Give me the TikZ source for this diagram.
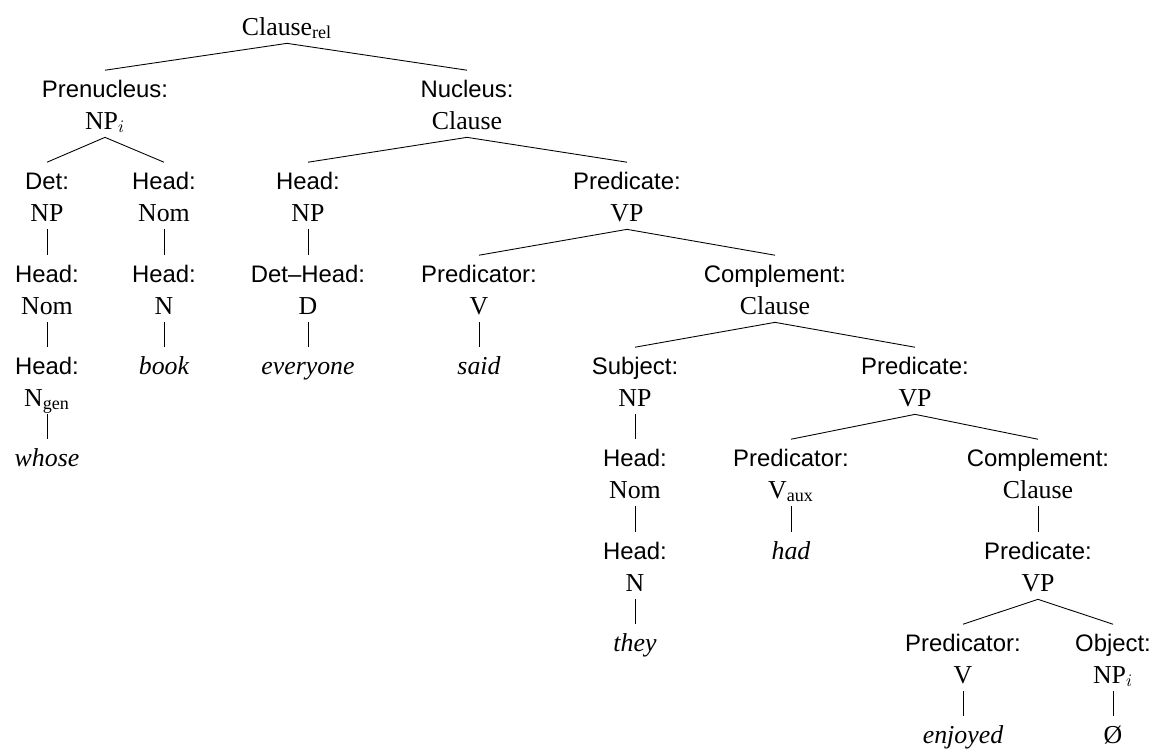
\documentclass[tikz,border=0pt]{standalone}
\usepackage{fontspec}
\setmainfont{Liberation Serif}
\setsansfont{Liberation Sans}

\begin{document}
\begin{tikzpicture}[x=0.02cm, y=-0.02cm, line width=0.5pt,
  every node/.style = {anchor=base, inner xsep=0pt, inner ysep=4.5pt},
  fn/.style = {font=\fontsize{13.6}{16}\selectfont\sffamily, text height=10.5pt},
  cat/.style = {font=\fontsize{14.7}{18}\selectfont, text depth=0pt},
  wrd/.style = {font=\fontsize{14.7}{18}\selectfont\itshape, text height=10.5pt}]

  \useasboundingbox (0,0) rectangle (1153,748);

  \node[cat] (root) at (287,35) {Clause\textsubscript{rel}};

  \node[fn]  (preF) at (105,97)  {Prenucleus:};
  \node[cat] (pre)  at (105,129) {NP$_i$};
  \node[fn]  (nucF) at (467,97)  {Nucleus:};
  \node[cat] (nuc)  at (467,129) {Clause};

  \node[fn]  (detF) at (47,189)  {Det:};
  \node[cat] (det)  at (47,221)  {NP};
  \node[fn]  (hdF)  at (164,189) {Head:};
  \node[cat] (hd)   at (164,221) {Nom};
  \node[fn]  (shF)  at (308,189) {Head:};
  \node[cat] (sh)   at (308,221) {NP};
  \node[fn]  (prdF) at (627,189) {Predicate:};
  \node[cat] (prd)  at (627,221) {VP};

  \node[fn]  (dhF)  at (47,282)  {Head:};
  \node[cat] (dh)   at (47,314)  {Nom};
  \node[fn]  (hnF)  at (164,282) {Head:};
  \node[cat] (hn)   at (164,314) {N};
  \node[fn]  (dtF)  at (308,282) {Det--Head:};
  \node[cat] (dt)   at (308,314) {D};
  \node[fn]  (vF)   at (479,282) {Predicator:};
  \node[cat] (v)    at (479,314) {V};
  \node[fn]  (cmpF) at (775,282) {Complement:};
  \node[cat] (cmp)  at (775,314) {Clause};

  \node[fn]  (gnF)  at (47,374)  {Head:};
  \node[cat] (gn)   at (47,406)  {N\textsubscript{gen}};
  \node[wrd] (book) at (164,374) {book};
  \node[wrd] (everyone) at (308,374) {everyone};
  \node[wrd] (said) at (479,374) {said};
  \node[fn]  (sbjF) at (635,374) {Subject:};
  \node[cat] (sbj)  at (635,406) {NP};
  \node[fn]  (prd2F) at (915,374) {Predicate:};
  \node[cat] (prd2)  at (915,406) {VP};

  \node[wrd] (whose) at (47,466) {whose};
  \node[fn]  (snomF) at (635,466) {Head:};
  \node[cat] (snom)  at (635,498) {Nom};
  \node[fn]  (auxF)  at (791,466) {Predicator:};
  \node[cat] (aux)   at (791,498) {V\textsubscript{aux}};
  \node[fn]  (cmp2F) at (1038,466) {Complement:};
  \node[cat] (cmp2)  at (1038,498) {Clause};

  \node[fn]  (snF)   at (635,559) {Head:};
  \node[cat] (sn)    at (635,591) {N};
  \node[wrd] (had)   at (791,559) {had};
  \node[fn]  (prd3F) at (1038,559) {Predicate:};
  \node[cat] (prd3)  at (1038,591) {VP};

  \node[wrd] (they)  at (635,651) {they};
  \node[fn]  (v3F)   at (963,651) {Predicator:};
  \node[cat] (v3)    at (963,683) {V};
  \node[fn]  (objF)  at (1113,651) {Object:};
  \node[cat] (obj)   at (1113,683) {NP$_i$};

  \node[wrd] (enjoyed) at (963,743) {enjoyed};
  \node[wrd] (gap)     at (1113,743) {\upshape\O};

  % branches
  \draw (root.south) -- (preF.north);
  \draw (root.south) -- (nucF.north);
  \draw (pre.south) -- (detF.north);
  \draw (pre.south) -- (hdF.north);
  \draw (nuc.south) -- (shF.north);
  \draw (nuc.south) -- (prdF.north);
  \draw (det.south) -- (dhF.north);
  \draw (dh.south) -- (gnF.north);
  \draw (gn.south) -- (whose.north);
  \draw (hd.south) -- (hnF.north);
  \draw (hn.south) -- (book.north);
  \draw (sh.south) -- (dtF.north);
  \draw (dt.south) -- (everyone.north);
  \draw (prd.south) -- (vF.north);
  \draw (prd.south) -- (cmpF.north);
  \draw (v.south) -- (said.north);
  \draw (cmp.south) -- (sbjF.north);
  \draw (cmp.south) -- (prd2F.north);
  \draw (sbj.south) -- (snomF.north);
  \draw (snom.south) -- (snF.north);
  \draw (sn.south) -- (they.north);
  \draw (prd2.south) -- (auxF.north);
  \draw (prd2.south) -- (cmp2F.north);
  \draw (aux.south) -- (had.north);
  \draw (cmp2.south) -- (prd3F.north);
  \draw (prd3.south) -- (v3F.north);
  \draw (prd3.south) -- (objF.north);
  \draw (v3.south) -- (enjoyed.north);
  \draw (obj.south) -- (gap.north);
\end{tikzpicture}
\end{document}
